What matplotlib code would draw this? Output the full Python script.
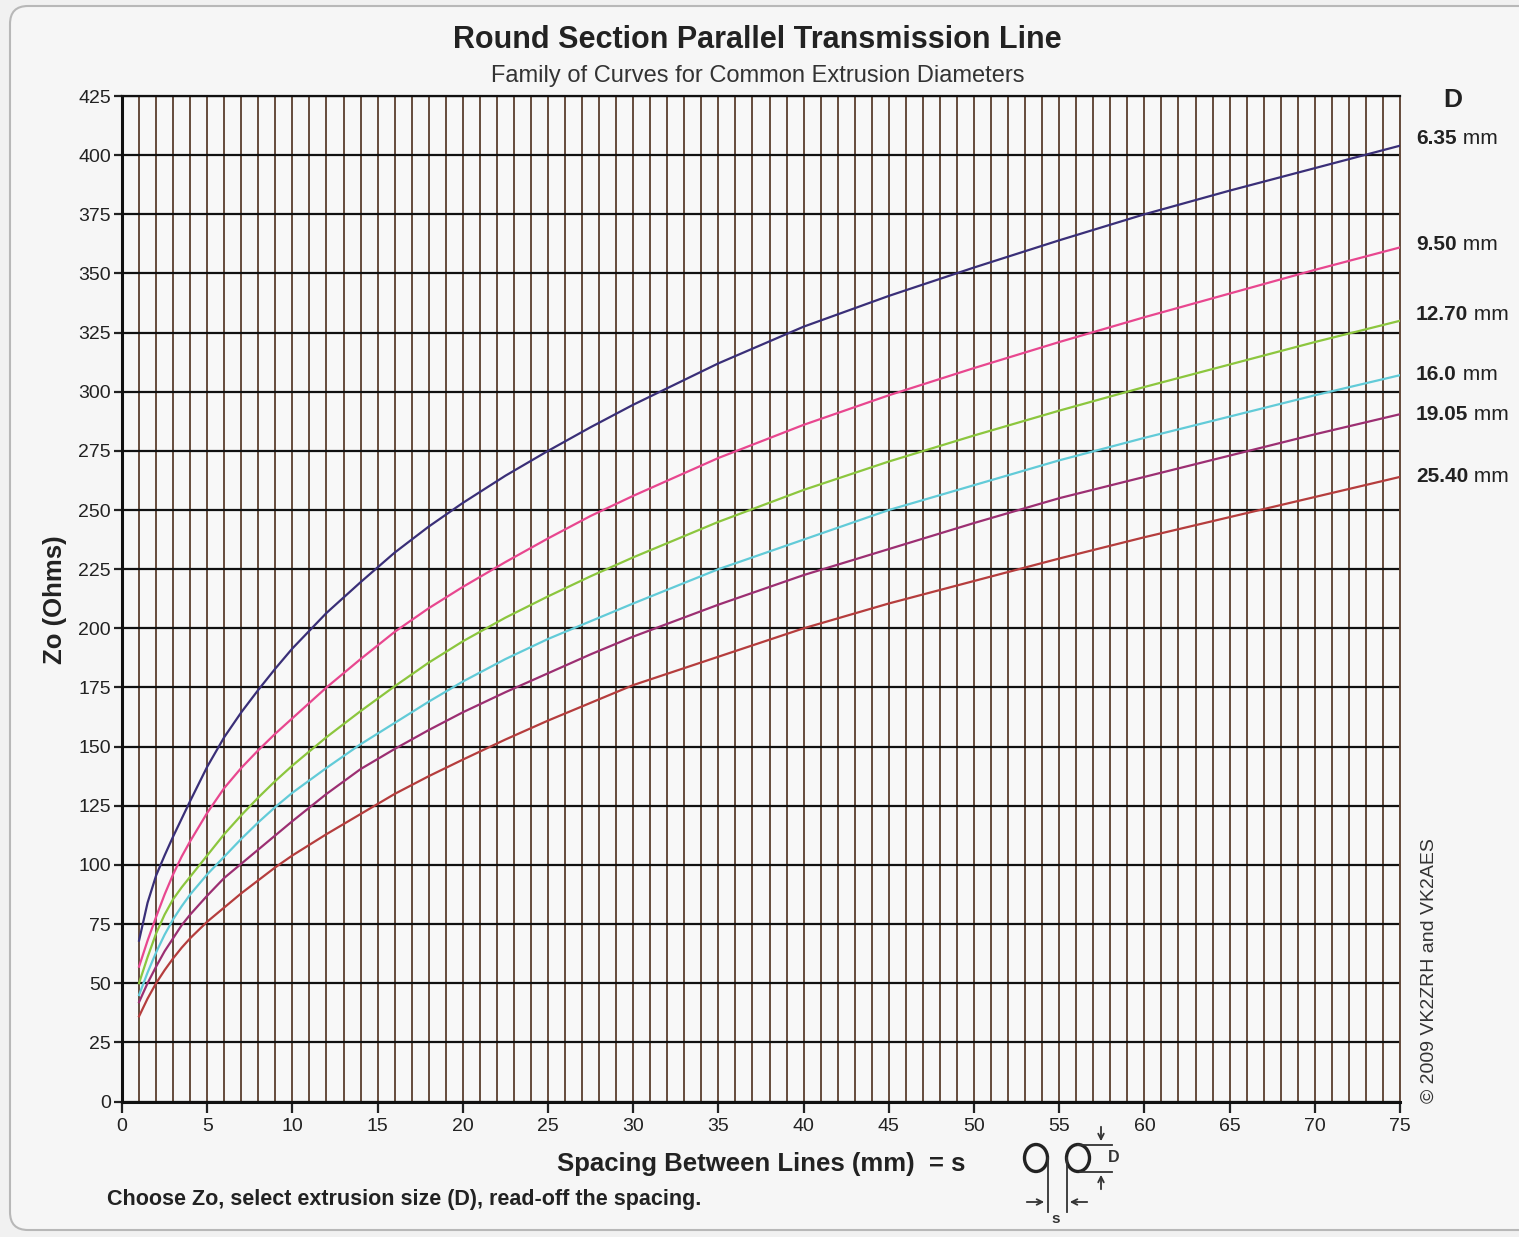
import matplotlib
matplotlib.use("Agg")
import matplotlib.pyplot as plt
from matplotlib.ticker import MultipleLocator
from matplotlib.patches import Ellipse, FancyBboxPatch

plt.rcParams['font.family'] = ['Liberation Sans', 'DejaVu Sans']

# ---------------- data ----------------
spacing_mm = [1, 1.5, 2, 2.5, 3, 3.5, 4, 5, 6, 7, 8, 9, 10, 12, 14, 16, 18, 20, 22.5, 25, 27.5, 30,
              35, 40, 45, 50, 55, 60, 65, 70, 75]
diameters = ["6.35", "9.50", "12.70", "16.0", "19.05", "25.40"]
zo_6_35 = [68, 84, 95.5, 104, 112, 119.5, 127, 141.5, 154, 164.5, 174, 183, 191.5, 206.5, 219.5, 232,
           243, 253, 264.5, 275, 285, 294.5, 312, 327.5, 340.5, 352.5, 364, 375, 385, 394.5, 404]
zo_9_50 = [57, 68, 78, 87.5, 96, 103.5, 110, 122, 132.5, 141, 148.5, 155.5, 162, 175, 187, 198.5,
           208.5, 217.5, 228, 238, 247.5, 256, 272, 286, 298.5, 310, 321, 331.5, 341.5, 351.5, 361]
zo_12_70 = [50, 61, 71, 79, 85.5, 90.5, 95, 104, 113, 121, 128.5, 135.5, 142, 154, 165, 175.5,
            185.5, 194.5, 204.5, 213.5, 222, 230, 245, 258.5, 270.5, 281.5, 292, 302, 311.5, 321, 330]
zo_16_0 = [45, 54.5, 63, 70.5, 77, 82.5, 87.5, 96, 103.5, 111, 118, 124.5, 130.5, 141, 151, 160,
           169, 177.5, 187, 195.5, 203, 210.5, 225, 237.5, 250, 260.5, 271, 280.5, 289.5, 298.5, 307]
zo_19_05 = [42, 50, 57, 63.5, 69, 74.5, 79, 87, 94.5, 100.5, 106.5, 112.5, 118.5, 130, 140.5, 149,
            157, 164.5, 173, 181, 189, 196.5, 210, 222.5, 233.5, 244.5, 255, 264, 273, 282, 290.5]
zo_25_40 = [36, 43.5, 50, 55.5, 60.5, 65, 69, 76, 82, 88, 93.5, 99, 104, 113, 121.5, 130,
            137.5, 144.5, 153, 161, 168.5, 176, 188, 200, 210.5, 220, 229.5, 238.5, 247, 255.5, 264]
series = [zo_6_35, zo_9_50, zo_12_70, zo_16_0, zo_19_05, zo_25_40]
colors = ["#3a2f78", "#e8478f", "#8cc63e", "#62cbd8", "#9c2f72", "#b53d3d"]
label_y_px = [139, 244, 315, 374, 414, 476]

W, H = 1519, 1237
fig = plt.figure(figsize=(W / 100, H / 100), dpi=100)
fig.patch.set_facecolor("#f1f1f1")

# overlay for decorations, in pixel coordinates
deco = fig.add_axes([0, 0, 1, 1], zorder=0)
deco.set_xlim(0, W)
deco.set_ylim(H, 0)
deco.axis("off")
deco.add_patch(FancyBboxPatch((10, 6), 1540, 1224, boxstyle="round,pad=0,rounding_size=18",
                              fc="#f6f6f6", ec="#b8b8b8", lw=1.5))

left, right = 122 / W, 1400 / W
bottom, top = 1 - 1101.5 / H, 1 - 96 / H
ax = fig.add_axes([left, bottom, right - left, top - bottom], zorder=2)
ax.set_facecolor("#f8f8f8")
ax.set_xlim(0, 75)
ax.set_ylim(0, 425)

ax.xaxis.set_major_locator(MultipleLocator(5))
ax.xaxis.set_minor_locator(MultipleLocator(1))
ax.yaxis.set_major_locator(MultipleLocator(25))
ax.grid(axis="x", which="both", color="#664c3c", lw=1.4)
ax.grid(axis="y", which="major", color="#111111", lw=1.6)
ax.set_axisbelow(True)

for s, c in zip(series, colors):
    ax.plot(spacing_mm, s, color=c, lw=1.6, zorder=3)

for sp in ["left", "bottom"]:
    ax.spines[sp].set_linewidth(2.2)
    ax.spines[sp].set_color("#111111")
ax.spines["top"].set_linewidth(1.6)
ax.spines["top"].set_color("#111111")
ax.spines["right"].set_linewidth(1.4)
ax.spines["right"].set_color("#664c3c")

ax.tick_params(axis="x", which="major", length=8, width=1.6, labelsize=14, pad=4, colors="#222222")
ax.tick_params(axis="x", which="minor", length=0)
ax.tick_params(axis="y", which="major", length=6, width=1.6, labelsize=14, pad=2, colors="#222222")

# titles and labels (pixel placement)
deco.text(757, 40, "Round Section Parallel Transmission Line", ha="center", va="center",
          fontsize=22, fontweight="bold", color="#222222")
deco.text(758, 76, "Family of Curves for Common Extrusion Diameters", ha="center", va="center",
          fontsize=17, color="#333333")
deco.text(55, 600, "Zo (Ohms)", rotation=90, ha="center", va="center",
          fontsize=18.5, fontweight="bold", color="#222222")
deco.text(761, 1164, "Spacing Between Lines (mm)  = s", ha="center", va="center",
          fontsize=18.5, fontweight="bold", color="#222222")
deco.text(107, 1199, "Choose Zo, select extrusion size (D), read-off the spacing.", ha="left",
          va="center", fontsize=15.5, fontweight="bold", color="#222222")
deco.text(1453, 100, "D", ha="center", va="center", fontsize=19, fontweight="bold", color="#222222")
deco.text(1429, 971, "\u00a9 2009 VK2ZRH and VK2AES", rotation=90, ha="center", va="center",
          fontsize=14, color="#333333")

for d, yp in zip(diameters, label_y_px):
    t = deco.text(1416, yp, d, ha="left", va="center", fontsize=15, fontweight="bold", color="#222222")
    deco.annotate(" mm", xycoords=t, xy=(1, 0.5), va="center", ha="left",
                  fontsize=15, color="#222222")

# spacing diagram
deco.add_patch(Ellipse((1036, 1158), 23, 27, fill=False, ec="#222222", lw=2.4))
deco.add_patch(Ellipse((1078, 1158), 23, 27, fill=False, ec="#222222", lw=2.4))
deco.plot([1047.5, 1047.5], [1158, 1212], color="#333333", lw=1.3)
deco.plot([1066.5, 1066.5], [1158, 1212], color="#333333", lw=1.3)
deco.annotate("", xy=(1047, 1202), xytext=(1024, 1202),
              arrowprops=dict(arrowstyle="->", color="#333333", lw=1.3))
deco.annotate("", xy=(1067, 1202), xytext=(1090, 1202),
              arrowprops=dict(arrowstyle="->", color="#333333", lw=1.3))
deco.text(1056, 1219, "s", ha="center", va="center", fontsize=11, fontweight="bold", color="#333333")
deco.plot([1078, 1112], [1144.5, 1144.5], color="#333333", lw=1.3)
deco.plot([1080, 1112], [1171.5, 1171.5], color="#333333", lw=1.3)
deco.annotate("", xy=(1101, 1144), xytext=(1101, 1124),
              arrowprops=dict(arrowstyle="->", color="#333333", lw=1.3))
deco.annotate("", xy=(1101, 1172), xytext=(1101, 1192),
              arrowprops=dict(arrowstyle="->", color="#333333", lw=1.3))
deco.text(1114, 1158, "D", ha="center", va="center", fontsize=11.5, fontweight="bold", color="#333333")

fig.savefig("out.png", dpi=100, facecolor=fig.get_facecolor())
